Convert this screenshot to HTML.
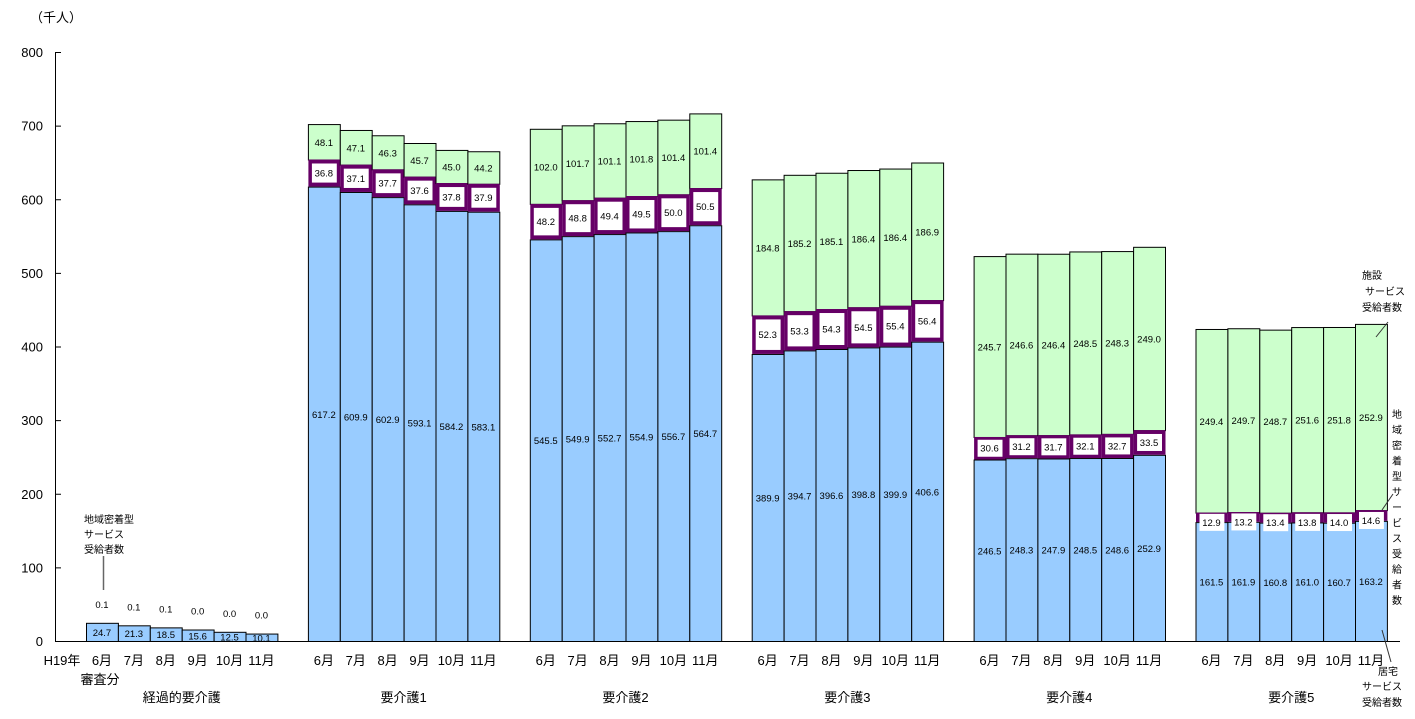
<!DOCTYPE html>
<html><head><meta charset="utf-8"><style>
body{margin:0;background:#fff}
svg text{font-family:"Liberation Sans","Noto Sans CJK JP",sans-serif;fill:#000}
</style></head><body>
<svg id="c" width="1415" height="714" xmlns="http://www.w3.org/2000/svg">
<text x="30" y="22" font-size="13">（千人）</text>
<line x1="55.5" y1="52" x2="55.5" y2="641" stroke="#000"/>
<g id="ticks"></g>
<g id="bars"></g>
<g id="xl"></g>
<g font-size="10">
<text x="84" y="523" font-size="10">地域密着型</text>
<text x="84" y="538" font-size="10">サービス</text>
<text x="84" y="553" font-size="10">受給者数</text>
<line x1="103.5" y1="556" x2="103.5" y2="590" stroke="#666" stroke-width="1.5"/>
<text x="1362" y="279" font-size="10">施設</text>
<text x="1365" y="295" font-size="10">サービス</text>
<text x="1362" y="311" font-size="10">受給者数</text>
<line x1="1388" y1="322" x2="1376" y2="337" stroke="#333"/>
<text id="vt" font-size="10"></text>
<line x1="1393" y1="494" x2="1382" y2="510" stroke="#333"/>
<text x="1378" y="675" font-size="10">居宅</text>
<text x="1362" y="690" font-size="10">サービス</text>
<text x="1362" y="706" font-size="10">受給者数</text>
<line x1="1382" y1="630" x2="1391" y2="662" stroke="#333"/>
</g>
</svg>
<script>
const groups=["経過的要介護","要介護1","要介護2","要介護3","要介護4","要介護5"];
const months=["6月","7月","8月","9月","10月","11月"];
const yTicks=[0,100,200,300,400,500,600,700,800];
const home=[[24.7,21.3,18.5,15.6,12.5,10.1],[617.2,609.9,602.9,593.1,584.2,583.1],[545.5,549.9,552.7,554.9,556.7,564.7],[389.9,394.7,396.6,398.8,399.9,406.6],[246.5,248.3,247.9,248.5,248.6,252.9],[161.5,161.9,160.8,161.0,160.7,163.2]];
const community=[[0.1,0.1,0.1,0.0,0.0,0.0],[36.8,37.1,37.7,37.6,37.8,37.9],[48.2,48.8,49.4,49.5,50.0,50.5],[52.3,53.3,54.3,54.5,55.4,56.4],[30.6,31.2,31.7,32.1,32.7,33.5],[12.9,13.2,13.4,13.8,14.0,14.6]];
const facility=[[0,0,0,0,0,0],[48.1,47.1,46.3,45.7,45.0,44.2],[102.0,101.7,101.1,101.8,101.4,101.4],[184.8,185.2,185.1,186.4,186.4,186.9],[245.7,246.6,246.4,248.5,248.3,249.0],[249.4,249.7,248.7,251.6,251.8,252.9]];

const NS="http://www.w3.org/2000/svg";
const y=v=>641-v*(589/800);
const gx=g=>86+g*221.9;
const bw=31.9;
const bx=(g,i)=>gx(g)+i*bw;
function mk(tag,attrs,parent,txt){const e=document.createElementNS(NS,tag);for(const k in attrs)e.setAttribute(k,attrs[k]);if(txt!==undefined)e.textContent=txt;parent.appendChild(e);return e;}
const T=document.getElementById('ticks'),B=document.getElementById('bars'),X=document.getElementById('xl');
yTicks.forEach(t=>{
 const l=mk('line',{x1:55,x2:61,y1:y(t)+.5,y2:y(t)+.5,stroke:'#000'},T);
 
 
 const s=mk('text',{x:43,y:y(t)+5,'font-size':13,'text-anchor':'end'},T,String(t));
 
 
});
mk('line',{x1:55,x2:1400,y1:641.5,y2:641.5,stroke:'#000'},T);
groups.forEach((gn,g)=>{
 months.forEach((m,i)=>{
  const x=bx(g,i),h=home[g][i],c=community[g][i],f=facility[g][i];
  const y0=y(0),y1=y(h),y2=y(h+c),y3=y(h+c+f);
  const r1=mk('rect',{x:x+.5,y:y1+.5,width:bw,height:y0-y1,fill:'#99ccff',stroke:'#000'},B);
  
  
  if(g>0){
   const r3=mk('rect',{x:x+.5,y:y3+.5,width:bw,height:y2-y3,fill:'#ccffcc',stroke:'#000'},B);
   
   
   const r2=mk('rect',{x:x+.5,y:y2,width:bw,height:y1-y2,fill:'#660066'},B);
   
   
   const bh=Math.max(y1-y2-8,17),mid=(y1+y2)/2+(y1-y2<20?5:0);
   mk('rect',{x:x+4,y:mid-bh/2,width:bw-7,height:bh,fill:'#fff'},B);
   mk('text',{x:x+bw/2,y:mid+3.5,'font-size':9.5,'text-anchor':'middle'},B,c.toFixed(1));
   mk('text',{x:x+bw/2,y:(y2+y3)/2+4,'font-size':9.5,'text-anchor':'middle'},B,f.toFixed(1));
  } else {
   mk('text',{x:x+bw/2,y:y1-15,'font-size':9.5,'text-anchor':'middle'},B,c.toFixed(1));
  }
  mk('text',{x:x+bw/2,y:g==0?(y0+y1)/2+4:(y0+y1)/2+4,'font-size':9.5,'text-anchor':'middle'},B,h.toFixed(1));
  const ml=mk('text',{x:x+bw/2,y:665,'font-size':13,'text-anchor':'middle'},X,m);
  
  
 });
 const gl=mk('text',{x:gx(g)+3*bw,y:702,'font-size':13,'text-anchor':'middle'},X,gn);
 
 
});
mk('text',{x:62,y:665,'font-size':13,'text-anchor':'middle'},X,'H19年');
mk('text',{x:100,y:684,'font-size':13,'text-anchor':'middle'},X,'審査分');
const vt="地域密着型サービス受給者数";
const vtEl=document.getElementById('vt');
[...vt].forEach((ch,k)=>{mk('tspan',{x:1392,y:418+k*15.5},vtEl,ch);});
</script>
</body></html>
